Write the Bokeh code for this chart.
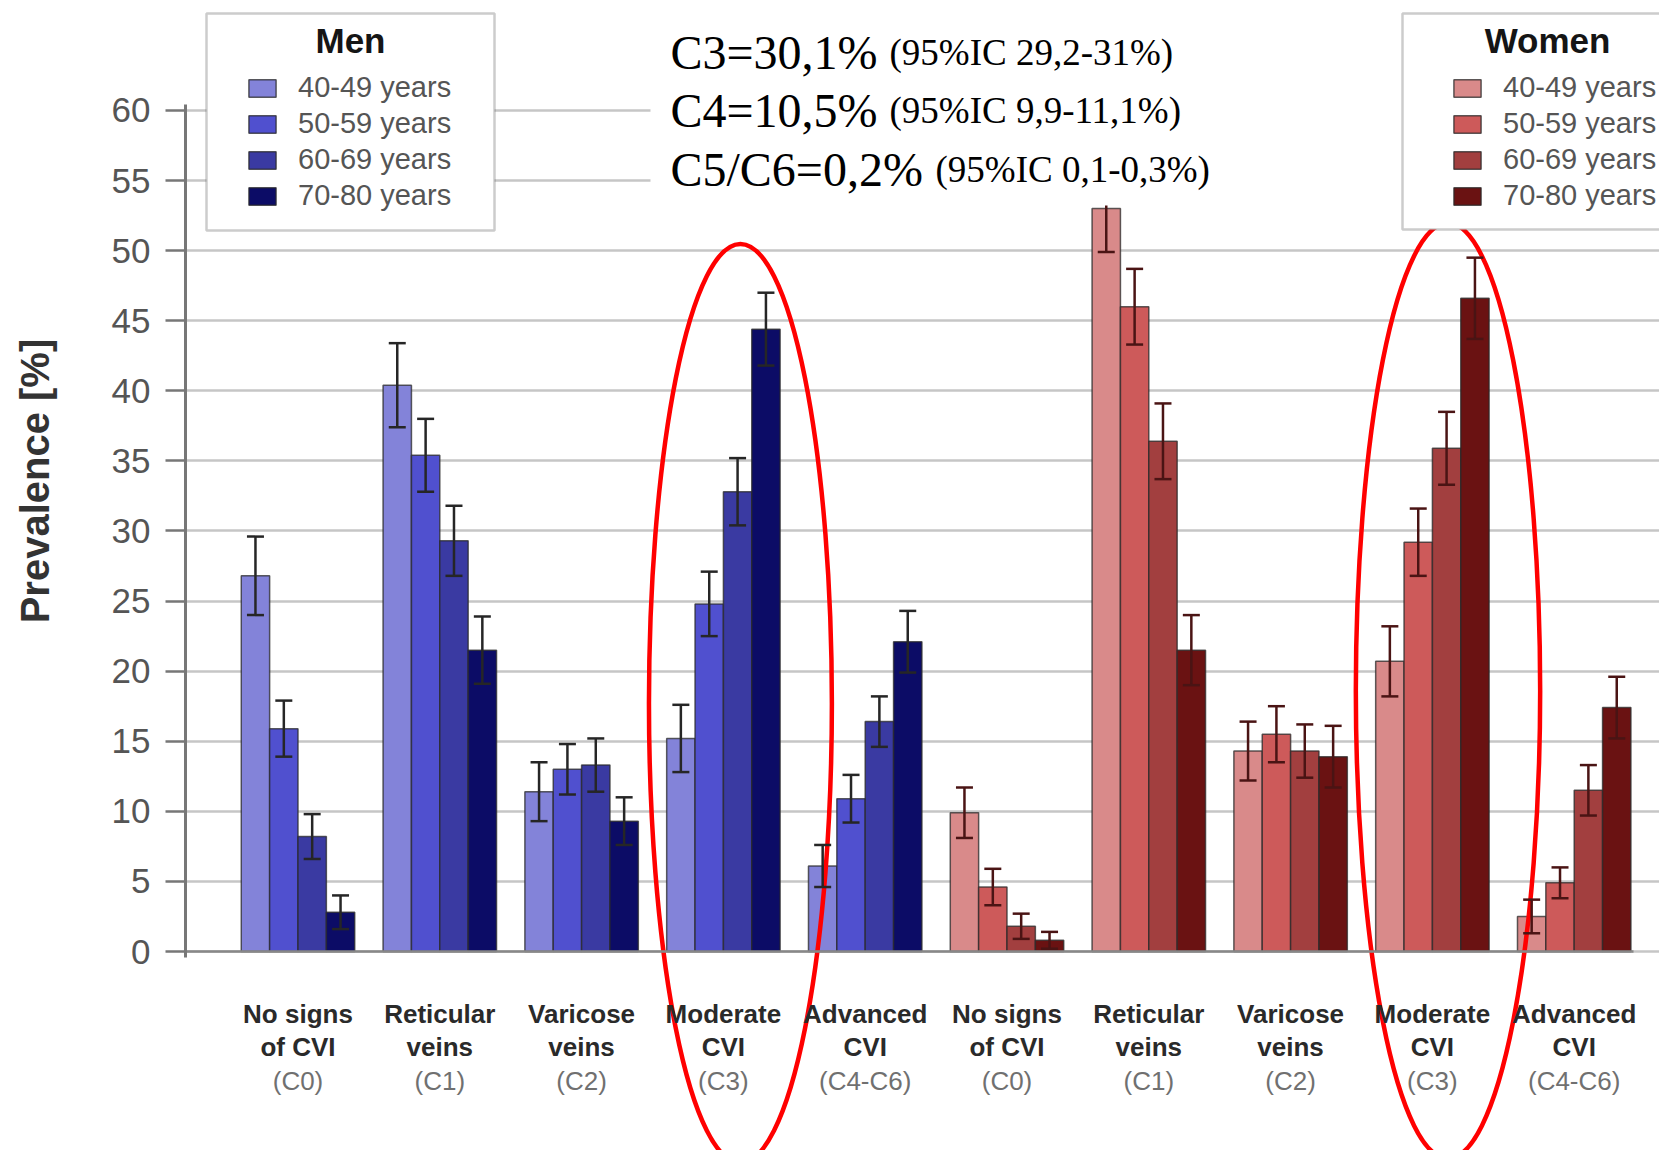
from bokeh.plotting import figure
from bokeh.models import (ColumnDataSource, FixedTicker, LinearAxis, Range1d, Whisker, TeeHead,
                          Legend, LegendItem, BoxAnnotation, Label)
from bokeh.embed import file_html
from bokeh.resources import INLINE

# ---------------- data ----------------
categories = ["No signs\nof CVI", "Reticular\nveins", "Varicose\nveins", "Moderate\nCVI", "Advanced\nCVI"]
classes = ["(C0)", "(C1)", "(C2)", "(C3)", "(C4-C6)"]
age_groups = ["40-49 years", "50-59 years", "60-69 years", "70-80 years"]

men_40_49 = [26.8, 40.4, 11.4, 15.2, 6.1]
men_50_59 = [15.9, 35.4, 13.0, 24.8, 10.9]
men_60_69 = [8.2, 29.3, 13.3, 32.8, 16.4]
men_70_80 = [2.8, 21.5, 9.3, 44.4, 22.1]

men_err_40_49 = [2.8, 3.0, 2.1, 2.4, 1.5]
men_err_50_59 = [2.0, 2.6, 1.8, 2.3, 1.7]
men_err_60_69 = [1.6, 2.5, 1.9, 2.4, 1.8]
men_err_70_80 = [1.2, 2.4, 1.7, 2.6, 2.2]

women_40_49 = [9.9, 53.0, 14.3, 20.7, 2.5]
women_50_59 = [4.6, 46.0, 15.5, 29.2, 4.9]
women_60_69 = [1.8, 36.4, 14.3, 35.9, 11.5]
women_70_80 = [0.8, 21.5, 13.9, 46.6, 17.4]

women_err_40_49 = [1.8, 3.1, 2.1, 2.5, 1.2]
women_err_50_59 = [1.3, 2.7, 2.0, 2.4, 1.1]
women_err_60_69 = [0.9, 2.7, 1.9, 2.6, 1.8]
women_err_70_80 = [0.6, 2.5, 2.2, 2.9, 2.2]

y_ticks = [0, 5, 10, 15, 20, 25, 30, 35, 40, 45, 50, 55, 60]
y_title = "Prevalence [%]"

note_main = ["C3=30,1%", "C4=10,5%", "C5/C6=0,2%"]
note_ci = ["(95%IC 29,2-31%)", "(95%IC 9,9-11,1%)", "(95%IC 0,1-0,3%)"]

men_values = [men_40_49, men_50_59, men_60_69, men_70_80]
men_errors = [men_err_40_49, men_err_50_59, men_err_60_69, men_err_70_80]
women_values = [women_40_49, women_50_59, women_60_69, women_70_80]
women_errors = [women_err_40_49, women_err_50_59, women_err_60_69, women_err_70_80]

men_colors = ["#8383d9", "#5050cf", "#3a3aa2", "#0c0c66"]
women_colors = ["#d98a8a", "#cd5a5a", "#a23f3f", "#6a1212"]

# ---------------- geometry (px) ----------------
FIG_W, FIG_H = 1659, 1150
X0, PITCH = 297.5, 141.8      # px of first group centre, px per group
Y0, PXU = 951.0, 14.017        # px of y=0, px per unit
FRAME_L = 185

def dx(px):
    return (px - X0) / PITCH

def dy(py):
    return (Y0 - py) / PXU

x_start, x_end = dx(FRAME_L), dx(FIG_W)
y_start, y_end = dy(FIG_H), dy(0)

p = figure(width=FIG_W, height=FIG_H, output_backend="svg", toolbar_location=None,
           x_range=Range1d(x_start, x_end), y_range=Range1d(y_start, y_end),
           x_axis_location=None, y_axis_location="left",
           min_border_left=FRAME_L, min_border_right=0, min_border_top=0, min_border_bottom=0)
p.outline_line_color = None
p.background_fill_color = "white"
p.border_fill_color = "white"

# grid
p.xgrid.visible = False
p.ygrid.ticker = FixedTicker(ticks=y_ticks)
p.ygrid.grid_line_color = "#c6c6c6"
p.ygrid.grid_line_width = 2.5

# y axis
ya = p.yaxis[0]
ya.ticker = FixedTicker(ticks=y_ticks)
ya.bounds = (-0.4, 60.4)
ya.minor_tick_line_color = None
ya.major_tick_out = 20
ya.major_tick_in = 0
ya.major_tick_line_color = "#777777"
ya.major_tick_line_width = 2.5
ya.axis_line_color = "#777777"
ya.axis_line_width = 3
ya.major_label_standoff = 15
ya.major_label_text_font = "Liberation Sans"
ya.major_label_text_font_size = "35px"
ya.major_label_text_color = "#555555"
# the frame reaches below the x axis, so the (frame-centred) title is lifted with leading no-break spaces
ya.axis_label = "\u00a0" * 17 + y_title
ya.axis_label_text_font = "Liberation Sans"
ya.axis_label_text_font_style = "bold"
ya.axis_label_text_font_size = "40px"
ya.axis_label_text_color = "#333333"
ya.axis_label_standoff = 52

# bars
offsets = [-0.3, -0.1, 0.1, 0.3]
men_renderers, women_renderers = [], []
whiskers = []
for k in range(4):
    for sex, vals, errs, cols, store, base in (
            ("m", men_values, men_errors, men_colors, men_renderers, 0),
            ("w", women_values, women_errors, women_colors, women_renderers, 5)):
        xs = [base + i + offsets[k] for i in range(len(categories))]
        top = vals[k]
        src = ColumnDataSource(dict(x=xs, top=top,
                                    lower=[t - e for t, e in zip(top, errs[k])],
                                    upper=[t + e for t, e in zip(top, errs[k])]))
        r = p.vbar(x="x", top="top", width=0.2, bottom=0, source=src,
                   fill_color=cols[k], line_color="#2a2a2a", line_alpha=0.75, line_width=1.5)
        store.append(r)
        wc = "#262626" if sex == "m" else "#4a1414"
        w = Whisker(base="x", lower="lower", upper="upper", source=src,
                    line_color=wc, line_width=2.5, level="annotation",
                    upper_head=TeeHead(size=17, line_color=wc, line_width=2.5),
                    lower_head=TeeHead(size=17, line_color=wc, line_width=2.5))
        whiskers.append(w)
for w in whiskers:
    p.add_layout(w)

# highlight ellipses around the C3 groups
hl_groups = [3, 8]
hl_dx = [0.12, 0.11]
hl_y = [17.7, 18.6]
hl_w = [1.29, 1.30]
hl_h = [65.6, 66.8]
p.ellipse(x=[g + d for g, d in zip(hl_groups, hl_dx)], y=hl_y, width=hl_w, height=hl_h,
          fill_color=None, line_color="#ff0000", line_width=4.5)

# x axes (fixed at y=0)
ticks = list(range(10))
xa1 = LinearAxis(fixed_location=0, ticker=FixedTicker(ticks=ticks),
                 major_label_overrides={i: categories[i % 5] for i in ticks})
xa1.bounds = (x_start, dx(1633))
xa1.axis_line_color = "#888888"
xa1.axis_line_width = 2.5
xa1.major_tick_line_color = None
xa1.minor_tick_line_color = None
xa1.major_tick_out = 0
xa1.major_tick_in = 0
xa1.major_label_standoff = 47
xa1.major_label_text_font = "Liberation Sans"
xa1.major_label_text_font_style = "bold"
xa1.major_label_text_font_size = "26px"
xa1.major_label_text_color = "#2a2a2a"
xa1.major_label_text_line_height = 1.1
p.add_layout(xa1, "below")

xa2 = LinearAxis(fixed_location=0, ticker=FixedTicker(ticks=ticks),
                 major_label_overrides={i: classes[i % 5] for i in ticks})
xa2.axis_line_color = None
xa2.major_tick_line_color = None
xa2.minor_tick_line_color = None
xa2.major_tick_out = 0
xa2.major_tick_in = 0
xa2.major_label_standoff = 114
xa2.major_label_text_font = "Liberation Sans"
xa2.major_label_text_font_size = "26px"
xa2.major_label_text_color = "#707070"
p.add_layout(xa2, "below")

# white background behind the note text
p.add_layout(BoxAnnotation(left=dx(650), right=dx(1408), top=dy(-20), bottom=dy(205),
                           fill_color="white", fill_alpha=1, line_color=None, level="annotation"))

# note text
big_x = 670
small_x = [889, 889, 935]
base_y = [52, 110, 169]
for i in range(3):
    p.add_layout(Label(x=dx(big_x), y=dy(base_y[i]), text=note_main[i], text_font="Liberation Serif",
                       text_font_size="48px", text_color="black", text_baseline="alphabetic"))
    p.add_layout(Label(x=dx(small_x[i]), y=dy(base_y[i]), text=note_ci[i], text_font="Liberation Serif",
                       text_font_size="37px", text_color="black", text_baseline="alphabetic"))

# legend boxes
p.add_layout(BoxAnnotation(left=dx(206), right=dx(494), top=dy(13), bottom=dy(230),
                           fill_color="white", fill_alpha=1, line_color="#555555", line_width=2.5,
                           level="annotation"))
p.add_layout(BoxAnnotation(left=dx(1402), right=dx(1730), top=dy(13), bottom=dy(229),
                           fill_color="white", fill_alpha=1, line_color="#555555", line_width=2.5,
                           level="annotation"))
p.add_layout(Label(x=dx(350), y=dy(40), text="Men", text_font="Liberation Sans", text_font_style="bold",
                   text_font_size="35px", text_color="#151515", text_align="center", text_baseline="middle"))
p.add_layout(Label(x=dx(1547), y=dy(40), text="Women", text_font="Liberation Sans", text_font_style="bold",
                   text_font_size="35px", text_color="#151515", text_align="center", text_baseline="middle"))

def make_legend(renderers, loc):
    return Legend(items=[LegendItem(label=a, renderers=[r]) for a, r in zip(age_groups, renderers)],
                  location=loc, orientation="vertical", padding=0, margin=0, spacing=0,
                  glyph_width=34, glyph_height=22, label_standoff=19, label_height=36,
                  label_text_font="Liberation Sans", label_text_font_size="29px",
                  label_text_color="#555555", border_line_color=None, background_fill_alpha=0)

p.add_layout(make_legend(men_renderers, (245 - FRAME_L, FIG_H - 69.6 - 144)))
p.add_layout(make_legend(women_renderers, (1450 - FRAME_L, FIG_H - 69.6 - 144)))

open("out.html", "w").write(file_html(p, INLINE))
